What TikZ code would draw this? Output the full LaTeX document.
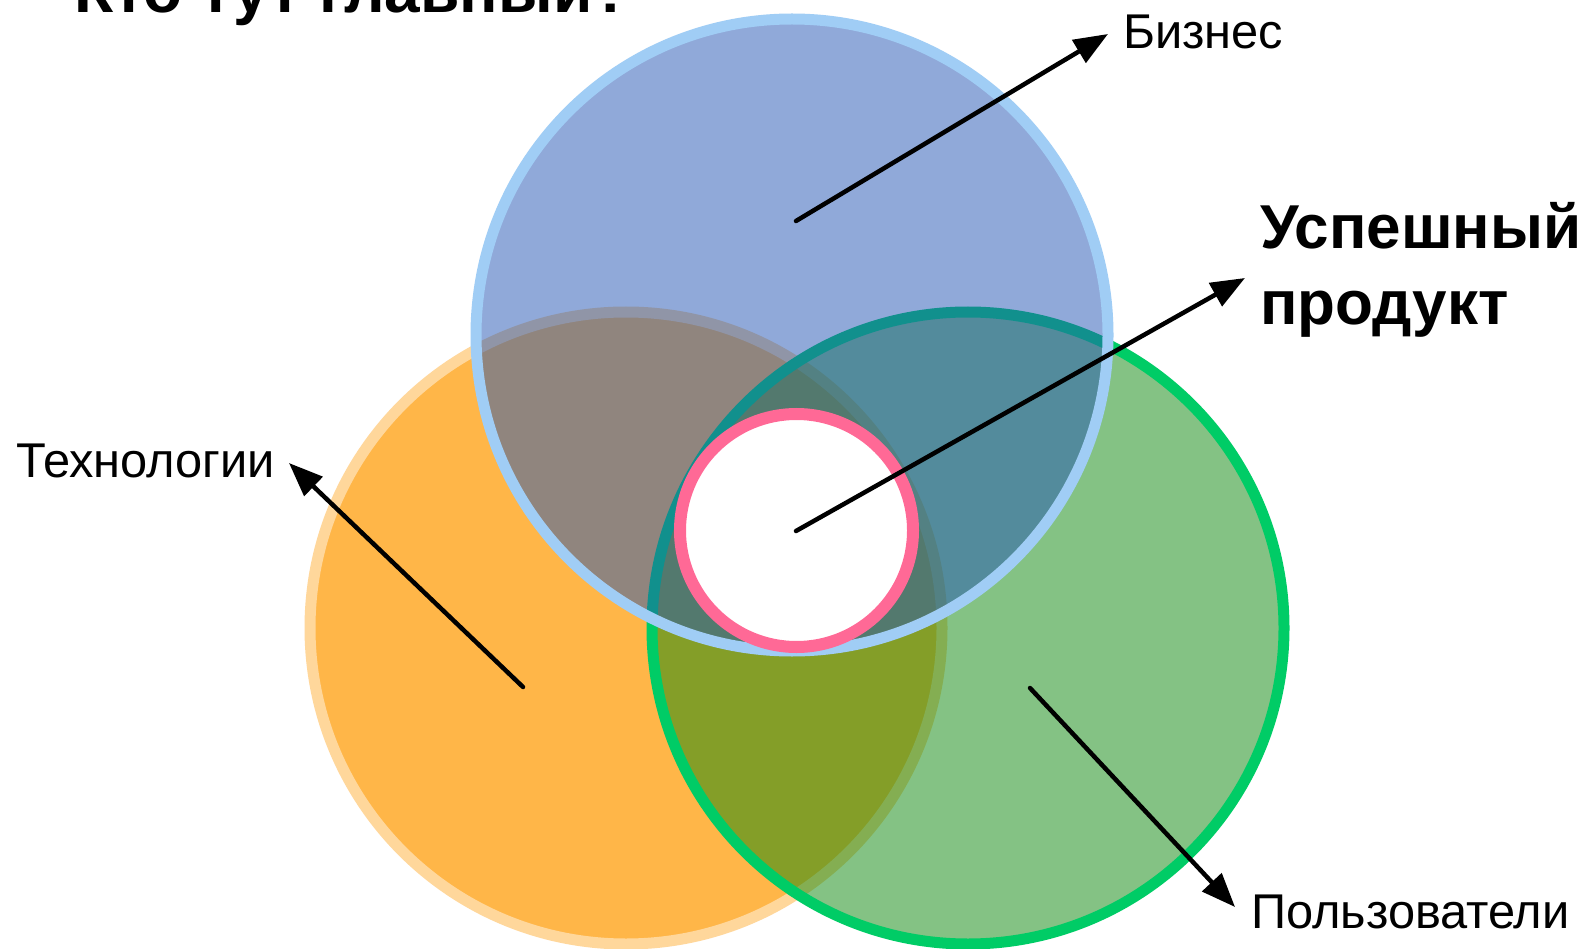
\documentclass[tikz,border=0pt]{standalone}
\usepackage{fontspec}
\setmainfont{Liberation Sans}
\usetikzlibrary{arrows.meta}
\definecolor{orfill}{RGB}{255,182,72}
\definecolor{orline}{RGB}{255,215,155}
\definecolor{grfill}{RGB}{10,135,10}
\definecolor{grline}{RGB}{0,204,102}
\definecolor{blfill}{RGB}{35,85,180}
\definecolor{blline}{RGB}{160,205,245}
\definecolor{pkline}{RGB}{255,105,150}
\tikzset{
  setc/.style={line width=11pt},
  arr/.style={line width=4.5pt, -{Triangle[length=34pt,width=26pt]}, line cap=round},
  lbl/.style={anchor=base west, inner sep=0pt, font=\fontsize{48.8}{58}\selectfont},
  big/.style={anchor=base west, inner sep=0pt, font=\bfseries\fontsize{62}{74}\selectfont}
}
\begin{document}
\begin{tikzpicture}[x=1pt,y=-1pt]
\useasboundingbox (0,0) rectangle (1590,949);
\clip (0,0) rectangle (1590,949);
\fill[white] (0,0) rectangle (1590,949);
% circles
\draw[setc, draw=orline, fill=orfill] (626,628) circle[radius=316pt];
\draw[setc, draw=grline, fill=grfill, fill opacity=0.5] (968,628) circle[radius=316pt];
\draw[setc, draw=blline, fill=blfill, fill opacity=0.5] (792,335) circle[radius=316pt];
\draw[line width=12pt, draw=pkline, fill=white] (796.5,530.5) circle[radius=116.5pt];
% texts
\node[anchor=base west, inner sep=0pt, font=\bfseries\fontsize{64}{76}\selectfont] (title) at (74,13) {Кто тут главный?};
\node[lbl] (biz) at (1123,49) {Бизнес};
\node[big] (prod1) at (1260,249) {Успешный};
\node[big] (prod2) at (1260,325) {продукт};
\node[lbl] (tec) at (16,477) {Технологии};
\node[lbl] (pol) at (1251,928) {Пользователи};
% arrow coordinates
\coordinate (bizT) at (796,221);
\coordinate (bizH) at (1108,34);
\coordinate (prodT) at (796,531);
\coordinate (prodH) at (1245,278);
\coordinate (tecT) at (523,687);
\coordinate (tecH) at (289,463);
\coordinate (polT) at (1030,688);
\coordinate (polH) at (1235,907);
\draw[arr] (bizT) -- (bizH);
\draw[arr] (prodT) -- (prodH);
\draw[arr] (tecT) -- (tecH);
\draw[arr] (polT) -- (polH);
\end{tikzpicture}
\end{document}
